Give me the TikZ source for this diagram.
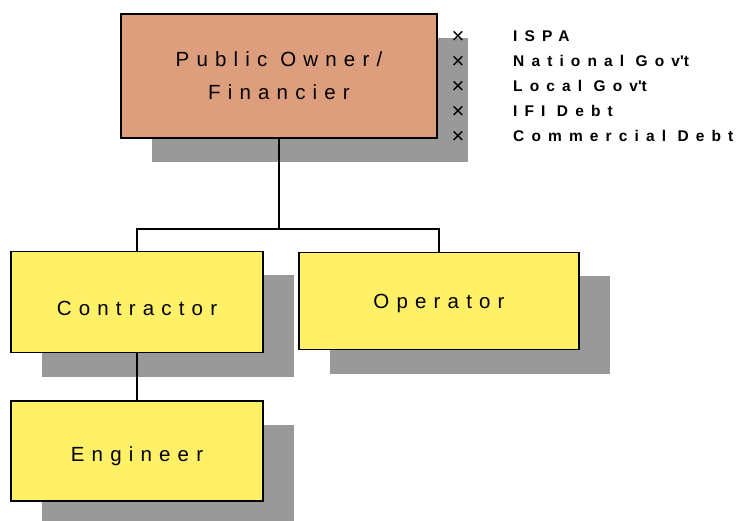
\documentclass[tikz,border=0pt]{standalone}
\usepackage{fontspec}
\setmainfont{Liberation Sans}
\newfontfamily\boxfont[LetterSpace=35]{Liberation Sans}
\newfontfamily\listfont[LetterSpace=46]{Liberation Sans Bold}
\usetikzlibrary{calc, shapes, shadows}
\definecolor{ownerfill}{HTML}{DC9E7C}
\definecolor{boxfill}{HTML}{FFF068}
\definecolor{shade}{HTML}{999999}

\begin{document}
\begin{tikzpicture}[x=1pt,y=-1pt]
\tikzstyle{boxed}=[rectangle,draw,line width=1.6pt,inner sep=0pt,align=center,drop shadow={shadow xshift=31pt,shadow yshift=-24pt,fill=shade,opacity=1},font=\boxfont\fontsize{20.5}{33}\selectfont]
\tikzstyle{orangebox}=[boxed,fill=ownerfill]
\tikzstyle{yellowbox}=[boxed,fill=boxfill]
\tikzstyle{cross}=[inner sep=0pt,font=\fontsize{22}{22}\selectfont]
\tikzstyle{item}=[anchor=base west,inner sep=0pt,font=\listfont\fontsize{15.5}{15.5}\selectfont]
\useasboundingbox (0,0) rectangle (739,521);
\node[orangebox,minimum width=316pt,minimum height=124pt] (B_0) at (279,76) {Public Owner/\\Financier};
\node[yellowbox,minimum width=252pt,minimum height=101pt] (B_1) at (137,302) {\raisebox{-6pt}[\height][\depth]{Contractor}};
\node[yellowbox,minimum width=280pt,minimum height=97pt] (B_2) at (439,301) {\raisebox{-2pt}[\height][\depth]{Operator}};
\node[yellowbox,minimum width=252pt,minimum height=100pt] (B_3) at (137,451) {\raisebox{-5pt}[\height][\depth]{Engineer}};
\coordinate (J) at (279,229);
\draw[line width=1.6pt] (B_0.south) -- (J) -| (B_1.north);
\draw[line width=1.6pt] (J) -| (B_2.north);
\draw[line width=1.6pt] (B_1) -- (B_3);
\node[cross] (X_0) at (458,37) {×};
\node[cross] (X_1) at (458,62) {×};
\node[cross] (X_2) at (458,87) {×};
\node[cross] (X_3) at (458,112) {×};
\node[cross] (X_4) at (458,137) {×};
\node[item] (L_0) at (513,42) {ISPA};
\node[item] (L_1) at (513,67) {National Gov\textquotesingle t};
\node[item] (L_2) at (513,92) {Local Gov\textquotesingle t};
\node[item] (L_3) at (513,117) {IFI Debt};
\node[item] (L_4) at (513,142) {Commercial Debt};
\end{tikzpicture}
\end{document}
